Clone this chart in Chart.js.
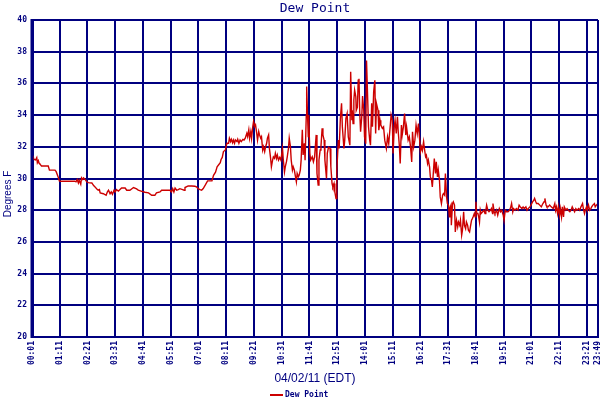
<!DOCTYPE html>
<html>
<head>
<meta charset="utf-8">
<script src="https://cdn.jsdelivr.net/npm/chart.js@4"></script>
<style>
html,body{margin:0;padding:0;background:#fff;}
#wrap{width:600px;height:400px;}
</style>
</head>
<body>
<div id="wrap"><canvas id="c" width="600" height="400"></canvas></div>
<script>
const chartTitle = 'Dew Point';
const xAxisTitle = '04/02/11 (EDT)';
const yAxisTitle = 'Degrees F';
const seriesName = 'Dew Point';

const xTickMinutes = [1, 71, 141, 211, 281, 351, 421, 491, 561, 631, 701, 771, 841, 911, 981, 1051, 1121, 1191, 1261, 1331, 1401, 1429];
const xTickLabels = ['00:01','01:11','02:21','03:31','04:41','05:51','07:01','08:11','09:21','10:31','11:41','12:51','14:01','15:11','16:21','17:31','18:41','19:51','21:01','22:11','23:21','23:49'];

const minutes = [
1,3,6,10,13,14.5,17,19,21,25,42,45,59,62,67,70,72,109,112,115,118,120,124,126,129,131,135,139,143,152,156,160,164,168,171,173,181,188,191,194,198,201,204,208,211,214,219,223,227,236,240,248,257,265,269,278,286,295,303,311,315,324,328,349,353,356,359,362,366,370,374,381,385,387,395,404,412,416,420,425,429,433,438,444,455,459,464,468,473,476,478,481,484,489,491,
493,497,499,502,504,507,509,512,514,518,520,523,526,529,533,536,539,543,545,548,550,553,555,558,560,563,565,568,570,573,575,578,580,583,585,588,590,593,595,598,600,603,605,608,610,613,615,618,620,623,626,629,633,635,638,640,643,645,648,650,653,655,658,660,663,665,668,670,673,675,678,680,683,685,688,690,693,694,696,698,699,702,704,708,711,714,718,720,723,725,728,730,733,735,738,740,744,746,749,753,755,758,760,763,765,768,770,772,774,
776,779,782,784,788,790,793,796,799,803,805,808,809,811,813,815,818,819,822,824,826,828,830,833,835,838,840,843,845,848,850,853,855,858,860,863,866,868,870,874,876,879,881,885,888,891,895,898,901,905,907,910,912,915,917,920,923,925,928,930,933,935,938,941,944,946,950,953,956,959,961,964,967,970,973,976,979,981,984,986,989,991,994,996,999,1001,1004,1006,1009,1011,1014,1016,1019,1021,1024,1026,1029,1031,1034,1037,1039,1042,1044,1047,1049,1052,
1054,1055,1058,1059,1062,1064,1067,1069,1072,1075,1077,1080,1082,1085,1087,1090,1092,1095,1097,1100,1102,1105,1107,1110,1112,1114,1117,1119,1121,1123,1126,1128,1130,1132,1134,1138,1141,1144,1146,1148,1151,1154,1158,1160,1163,1164,1167,1169,1173,1176,1180,1183,1186,1190,1192,1195,1198,1202,1206,1209,1211,1214,1216,1220,1223,1227,1230,1233,1237,1240,1243,1247,1250,1253,1257,1260,1264,1267,1269,1272,1274,1278,1282,1286,1290,1293,1295,1298,1300,1303,1307,1311,1316,1320,1322,1324,1327,1329,1332,1334,1337,1339,1342,1344,1348,1351,1354,1358,1361,1364,1368,1370,1373,1376,1380,1383,1386,1390,1392,1395,1397,1400,1402,1405,1408,1411,1413,1416,1420,1422,1425,1429
];

const dewPoint = [
31.45,31.43,31.2,31.17,31.32,31.0,31.13,30.96,30.91,30.79,30.79,30.53,30.53,30.43,30.1,29.85,29.83,29.83,29.79,29.94,29.72,29.89,29.64,30.04,29.94,30.04,29.94,29.79,29.74,29.72,29.57,29.47,29.36,29.26,29.3,29.09,29.04,28.94,29.15,29.26,29.04,29.15,29.0,29.26,29.15,29.3,29.21,29.3,29.4,29.4,29.26,29.26,29.43,29.34,29.26,29.19,29.13,29.09,28.94,28.94,29.09,29.15,29.26,29.26,29.15,29.36,29.15,29.4,29.26,29.3,29.36,29.3,29.26,29.43,29.53,29.53,29.51,29.47,29.36,29.3,29.26,29.37,29.58,29.85,29.85,30.2,30.4,30.74,30.9,31.0,31.2,31.33,31.7,31.8,32.05,
32.22,32.22,32.54,32.33,32.47,32.26,32.43,32.22,32.43,32.33,32.47,32.22,32.43,32.33,32.47,32.43,32.54,32.85,32.64,33.07,32.54,32.96,32.54,33.28,33.6,33.28,33.38,32.85,32.43,32.96,32.75,32.54,32.64,31.8,32.01,31.7,31.97,32.22,32.54,32.75,31.9,31.27,30.74,31.16,31.37,31.27,31.59,31.27,31.48,31.16,31.33,31.16,31.9,31.2,30.42,30.74,31.06,31.37,31.9,32.54,32.01,31.16,30.53,30.74,30.53,30.21,29.79,30.32,30.11,30.21,30.53,31.16,33.07,31.48,32.22,31.16,34.0,35.8,34.1,32.64,34.0,31.59,31.16,31.37,31.06,31.37,32.75,30.32,29.58,31.16,31.8,32.01,33.17,32.75,32.43,31.16,30.0,31.59,31.97,31.9,30.74,29.68,29.47,29.68,29.15,28.73,30.5,31.5,32.42,
31.9,33.8,34.74,33.26,31.9,32.42,33.8,34.1,32.63,32.1,36.74,33.68,34.3,33.47,34.95,35.58,35.16,34.3,34.5,36.2,36.3,34.1,32.95,33.9,35.2,34.3,32.63,32.2,37.45,34.95,33.26,32.42,32.1,34.74,33.26,35.47,36.2,32.84,34.74,34.3,33.05,33.68,33.37,33.16,33.26,32.42,31.9,32.63,32.2,33.37,34.0,33.68,31.58,33.26,33.68,32.84,33.9,32.95,32.0,30.95,33.37,32.74,33.26,34.1,32.74,33.26,32.42,32.63,32.0,31.05,32.95,32.0,32.42,33.37,32.84,33.47,32.42,31.68,32.0,31.79,32.32,31.9,31.37,31.47,30.95,31.16,30.74,30.1,29.9,29.47,30.53,31.26,30.32,31.05,30.1,30.53,29.9,28.84,28.42,28.95,29.05,28.95,30.32,28.84,28.42,28.3,
27.58,28.1,28.32,27.05,28.42,28.53,28.32,26.63,27.37,26.95,27.26,27.05,27.37,26.42,26.74,27.9,27.05,26.84,27.26,27.05,26.74,26.63,26.95,27.37,27.47,27.58,27.79,27.58,28.53,27.79,27.79,27.58,27.26,28.0,27.79,27.9,28.0,27.79,28.0,28.32,28.0,27.9,28.0,28.1,27.79,28.42,27.9,27.79,28.0,27.68,28.1,27.9,28.0,27.68,27.37,28.0,27.9,27.9,28.0,28.21,28.42,27.9,28.1,28.0,28.1,28.0,28.32,28.21,28.1,28.21,28.1,28.21,28.0,28.1,28.21,28.32,28.53,28.63,28.74,28.53,28.42,28.42,28.32,28.21,28.42,28.53,28.74,28.32,28.21,28.21,28.32,28.21,28.1,28.42,28.0,28.21,27.79,28.21,27.68,28.1,27.58,28.21,27.58,28.21,28.0,28.1,28.0,27.9,28.0,28.21,28.0,27.9,28.1,28.0,28.1,28.0,28.21,28.42,28.1,27.79,28.0,28.21,28.0,28.32,28.0,28.1,28.21,28.32,28.42,28.21,28.32,28.42
];

const yMin = 20, yMax = 40, yStep = 2;
const navy = '#000080';
const lineRed = '#cc0000';
const monoFont = '"DejaVu Sans Mono", "Liberation Mono", monospace';
const sansFont = '"Liberation Sans", Arial, sans-serif';

const decor = {
  id: 'decor',
  afterDraw(chart) {
    const {ctx, chartArea: a} = chart;
    ctx.save();
    // frame edges
    ctx.strokeStyle = navy;
    ctx.lineWidth = 2;
    ctx.beginPath();
    ctx.moveTo(a.right, a.top);
    ctx.lineTo(a.right, a.bottom);
    ctx.stroke();
    ctx.lineWidth = 3;
    ctx.beginPath();
    ctx.moveTo(a.left, a.top - 1);
    ctx.lineTo(a.left, a.bottom + 1);
    ctx.stroke();
    // title
    ctx.fillStyle = navy;
    ctx.textAlign = 'center';
    ctx.textBaseline = 'middle';
    ctx.font = '13px ' + monoFont;
    ctx.fillText(chartTitle, (a.left + a.right) / 2, 8.5);
    // x axis title
    ctx.font = '12px ' + sansFont;
    ctx.fillText(xAxisTitle, (a.left + a.right) / 2, 378.5);
    // y axis title
    ctx.save();
    ctx.translate(8.5, 194);
    ctx.rotate(-Math.PI / 2);
    ctx.font = '10px ' + sansFont;
    ctx.fillText(yAxisTitle, 0, 0);
    ctx.restore();
    // legend
    ctx.strokeStyle = lineRed;
    ctx.lineWidth = 2;
    ctx.beginPath();
    ctx.moveTo(270, 395);
    ctx.lineTo(283, 395);
    ctx.stroke();
    ctx.fillStyle = navy;
    ctx.textAlign = 'left';
    ctx.font = 'bold 8px ' + monoFont;
    ctx.fillText(seriesName, 285, 395);
    ctx.restore();
  }
};

new Chart(document.getElementById('c'), {
  type: 'line',
  data: {
    datasets: [{
      label: seriesName,
      data: minutes.map((m, i) => ({x: m, y: dewPoint[i]})),
      borderColor: lineRed,
      borderWidth: 1.4,
      pointRadius: 0,
      tension: 0,
      fill: false
    }]
  },
  options: {
    responsive: false,
    animation: false,
    devicePixelRatio: 1,
    layout: {padding: {top: 20, right: 2, left: 0, bottom: 0}},
    plugins: {
      legend: {display: false},
      title: {display: false},
      tooltip: {enabled: false}
    },
    scales: {
      x: {
        type: 'linear',
        min: xTickMinutes[0],
        max: xTickMinutes[xTickMinutes.length - 1],
        afterBuildTicks: (scale) => { scale.ticks = xTickMinutes.map(v => ({value: v})); },
        afterFit: (scale) => { scale.height = 63; scale.paddingLeft = 0; scale.paddingRight = 0; },
        ticks: {
          autoSkip: false,
          minRotation: 90,
          maxRotation: 90,
          padding: 4,
          color: navy,
          font: {family: monoFont, size: 8, weight: 'bold'},
          callback: (v) => { const i = xTickMinutes.indexOf(v); return i >= 0 ? xTickLabels[i] : ''; }
        },
        grid: {color: navy, lineWidth: 2, drawTicks: false},
        border: {display: true, color: navy, width: 2}
      },
      y: {
        min: yMin,
        max: yMax,
        afterFit: (scale) => { scale.width = 32; scale.paddingTop = 0; scale.paddingBottom = 0; },
        ticks: {
          stepSize: yStep,
          padding: 5,
          color: navy,
          font: {family: monoFont, size: 8, weight: 'bold'}
        },
        grid: {color: navy, lineWidth: 2, drawTicks: false},
        border: {display: true, color: navy, width: 3}
      }
    }
  },
  plugins: [decor]
});
</script>
</body>
</html>
